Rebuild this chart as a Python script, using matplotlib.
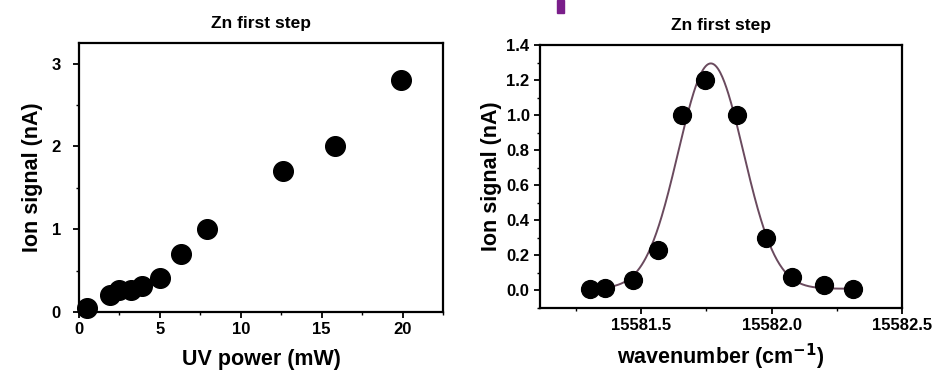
import numpy as np
import matplotlib.pyplot as plt
from matplotlib.ticker import MultipleLocator
from matplotlib.patches import Rectangle

plt.rcParams['font.family'] = ['Liberation Sans', 'DejaVu Sans']
plt.rcParams['font.weight'] = 'bold'

# left panel: ion signal vs UV power
power_mw = [0.5, 1.9, 2.5, 3.2, 3.9, 5.0, 6.3, 7.9, 12.6, 15.8, 19.9]
signal_power = [0.05, 0.21, 0.26, 0.26, 0.32, 0.41, 0.70, 1.00, 1.70, 2.01, 2.80]

# right panel: ion signal vs wavenumber
wavenumber = [15581.305, 15581.36, 15581.468, 15581.566, 15581.656, 15581.746,
              15581.866, 15581.98, 15582.08, 15582.20, 15582.314]
signal_wn = [0.01, 0.015, 0.057, 0.23, 1.00, 1.20, 1.00, 0.30, 0.078, 0.034, 0.01]

# gaussian fit parameters
fit_center = 15581.767
fit_height = 1.285
fit_sigma = 0.125
fit_base = 0.01

fig = plt.figure(figsize=(9.35, 3.72), dpi=100)
W, H = 935, 372

def add_ax(l, t, r, b):
    return fig.add_axes([l / W, 1 - b / H, (r - l) / W, (b - t) / H])

ax1 = add_ax(79, 43, 443, 312)
ax2 = add_ax(540, 45, 902, 308)

# left plot
ax1.scatter(power_mw, signal_power, s=200, color='black', zorder=3, clip_on=False)
ax1.set_xlim(0, 22.5)
ax1.set_ylim(0, 3.25)
ax1.xaxis.set_major_locator(MultipleLocator(5))
ax1.xaxis.set_minor_locator(MultipleLocator(2.5))
ax1.yaxis.set_major_locator(MultipleLocator(1))
ax1.yaxis.set_minor_locator(MultipleLocator(0.5))
ax1.set_xlabel('UV power (mW)', fontsize=15.5, fontweight='bold', labelpad=8)
ax1.set_ylabel('Ion signal (nA)', fontsize=15.5, fontweight='bold', labelpad=6)
ax1.set_title('Zn first step', fontsize=12.5, fontweight='bold', pad=11)

# right plot
xs = np.linspace(15581.3, 15582.32, 400)
fit = fit_base + fit_height * np.exp(-0.5 * ((xs - fit_center) / fit_sigma) ** 2)
ax2.plot(xs, fit, color='#6a4a5e', lw=1.4, zorder=2)
ax2.scatter(wavenumber, signal_wn, s=165, color='black', zorder=3)
ax2.set_xlim(15581.112, 15582.5)
ax2.set_ylim(-0.1, 1.4)
ax2.xaxis.set_major_locator(MultipleLocator(0.5))
ax2.xaxis.set_minor_locator(MultipleLocator(0.25))
ax2.yaxis.set_major_locator(MultipleLocator(0.2))
ax2.yaxis.set_minor_locator(MultipleLocator(0.1))
ax2.set_xticks([15581.5, 15582.0, 15582.5])
ax2.set_xticklabels(['15581.5', '15582.0', '15582.5'])
ax2.set_xlabel('wavenumber (cm$^{\\mathbf{-1}}$)', fontsize=15.5, fontweight='bold', labelpad=6)
ax2.set_ylabel('Ion signal (nA)', fontsize=15.5, fontweight='bold', labelpad=3)
ax2.set_title('Zn first step', fontsize=12.5, fontweight='bold', pad=11)

for ax in (ax1, ax2):
    for sp in ax.spines.values():
        sp.set_linewidth(1.6)
    ax.tick_params(which='major', direction='out', length=4, width=1.3, labelsize=12)
    ax.tick_params(which='minor', direction='out', length=2.5, width=1.0)
    for lab in ax.get_xticklabels() + ax.get_yticklabels():
        lab.set_fontweight('bold')
ax1.tick_params(axis='y', which='major', pad=9)

# cropped purple fragment at top edge
fig.patches.append(Rectangle((557 / W, 1 - 13 / H), 7 / W, 13 / H,
                             transform=fig.transFigure, color='#7a1e8a'))

fig.savefig('out.png', dpi=100)
